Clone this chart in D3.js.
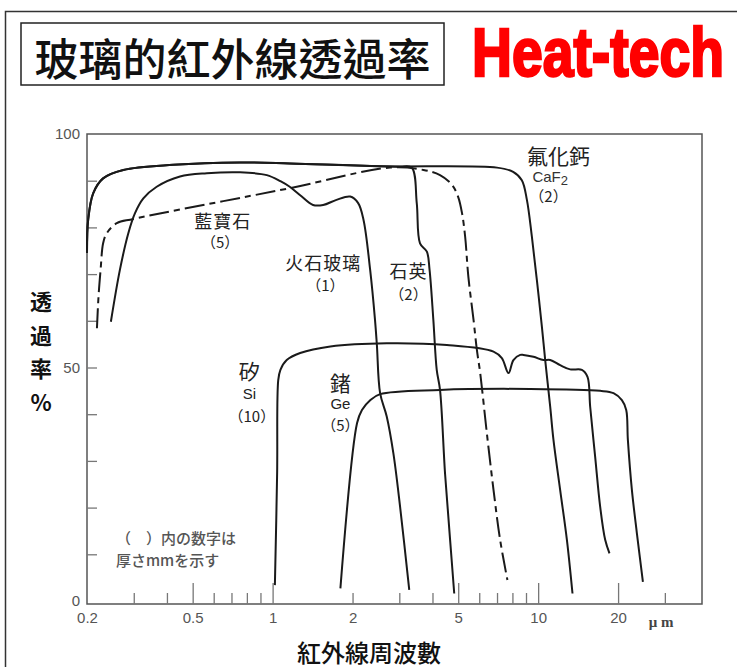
<!DOCTYPE html>
<html>
<head>
<meta charset="utf-8">
<script src="https://cdn.jsdelivr.net/npm/d3@7"></script>
<style>
  body { margin: 0; background: #fff; }
  svg { display: block; }
</style>
</head>
<body>
<div id="chart"></div>
<script>
// wavelength (µm), transmittance (%)
var caf2 = [[0.2, 74.5], [0.202, 81.6], [0.211, 87.3], [0.23, 90.5], [0.274, 92.3], [0.423, 93.4],
  [0.754, 93.9], [1.16, 93.7], [2.54, 93.1], [7.0, 92.8], [8.05, 91.9], [8.68, 90.1], [9.07, 85.9],
  [9.47, 78.0], [9.89, 68.7], [10.33, 58.7], [10.63, 51.6], [11.1, 41.6], [11.42, 34.5], [12.1, 23.8],
  [12.83, 13.1], [13.47, 1.6]];

var quartz = [[0.2, 74.5], [0.202, 81.6], [0.211, 87.3], [0.23, 90.5], [0.274, 92.3], [0.423, 93.4],
  [0.754, 93.9], [1.16, 93.7], [2.54, 93.1], [3.02, 93.0], [3.34, 92.8], [3.49, 85.2], [3.59, 76.6],
  [3.81, 74.8], [3.9, 70.9], [4.03, 60.2], [4.15, 49.5], [4.27, 45.2], [4.46, 27.3], [4.66, 13.1],
  [4.83, 1.6]];

var sapphire = [[0.218, 58.4], [0.221, 65.2], [0.225, 70.9], [0.23, 76.6], [0.237, 78.7], [0.259, 80.9],
  [0.299, 81.8], [1.16, 88.4], [2.77, 92.8], [3.7, 92.3], [4.27, 91.2], [4.74, 89.1], [5.0, 86.5],
  [5.17, 83.0], [5.31, 78.0], [5.46, 69.4], [5.71, 60.2], [5.88, 53.7], [6.05, 48.8], [6.41, 35.9],
  [6.79, 23.8], [7.19, 13.1], [7.66, 4.5]];

var flint = [[0.246, 59.8], [0.266, 70.9], [0.286, 78.7], [0.303, 83.0], [0.326, 86.2], [0.366, 88.7],
  [0.448, 90.9], [0.565, 91.6], [0.754, 91.8], [0.951, 91.2], [1.07, 89.9], [1.16, 88.7], [1.27, 86.9],
  [1.42, 84.8], [1.55, 84.8], [1.74, 85.9], [1.96, 86.6], [2.1, 85.2], [2.2, 81.6], [2.33, 70.9],
  [2.43, 60.2], [2.47, 54.8], [2.54, 44.5], [2.69, 39.5], [2.85, 31.6], [3.02, 20.2], [3.27, 2.4]];

var silicon = [[1.02, 3.4], [1.04, 27.4], [1.05, 47.3], [1.07, 49.5], [1.13, 51.6], [1.27, 53.1],
  [1.65, 54.5], [2.69, 55.2], [4.53, 54.8], [6.79, 53.4], [7.3, 52.0], [7.73, 48.8], [8.07, 51.6],
  [8.56, 52.7], [8.8, 52.7], [9.6, 52.3], [10.47, 51.6], [11.1, 51.6], [12.1, 50.5], [13.2, 49.6],
  [14.61, 49.5], [15.34, 48.0], [15.7, 41.6], [16.39, 30.9], [17.12, 20.2], [17.88, 13.1], [18.56, 10.2]];

var germanium = [[1.8, 2.7], [2.08, 38.1], [2.17, 40.9], [2.33, 43.0], [2.54, 44.3], [4.27, 45.2],
  [9.33, 45.4], [17.12, 45.0], [19.22, 44.5], [20.67, 43.0], [21.46, 40.9], [21.77, 34.5],
  [22.54, 23.8], [23.54, 14.5], [24.8, 4.1]];

var xLabels = [0.2, 0.5, 1, 2, 5, 10, 20];
var xTallTicks = [0.5, 1, 5, 10, 20];
var xShortTicks = [0.3, 0.4, 0.6, 0.7, 0.8, 0.9, 2, 3, 4, 6, 7, 8, 9, 30];
var yLabels = [0, 50, 100];
var yTicks = [10, 20, 30, 40, 50, 60, 70, 80, 90];

// curve names: [text, µm, %, size]
var curveLabels = [
  ["氟化鈣", 11.93, 95.5, 21], ["藍寶石", 0.649, 81.6, 18], ["（5）", 0.634, 76.9, 15],
  ["火石玻璃", 1.55, 72.5, 18], ["（1）", 1.58, 67.8, 15], ["石英", 3.25, 70.9, 18], ["（2）", 3.25, 65.9, 15],
  ["（2）", 10.94, 86.9, 15], ["矽", 0.817, 49.5, 21], ["Si", 0.817, 44.5, 15], ["（10）", 0.835, 39.8, 15],
  ["鍺", 1.8, 47.0, 21], ["Ge", 1.8, 42.3, 15], ["（5）", 1.8, 37.7, 15]
];

var W = 737, H = 667;
var svg = d3.select("#chart").append("svg")
  .attr("width", W).attr("height", H);

var x = d3.scaleLog().domain([0.2, 41.4]).range([87, 702]);
var y = d3.scaleLinear().domain([0, 100]).range([601, 134]);
var plotBottom = 604;

var cjk = "'Noto Sans CJK JP', 'Noto Sans CJK TC', sans-serif";
var latin = "'Liberation Sans', Arial, sans-serif";

// outer frame
svg.append("rect")
  .attr("x", 5.5).attr("y", 11.5).attr("width", 760).attr("height", 700)
  .attr("fill", "none").attr("stroke", "#333").attr("stroke-width", 1.5);

// title box
svg.append("rect")
  .attr("x", 21).attr("y", 23).attr("width", 423).attr("height", 62)
  .attr("fill", "#fff").attr("stroke", "#222").attr("stroke-width", 1.5);
svg.append("text")
  .attr("x", 232.5).attr("y", 57)
  .attr("text-anchor", "middle").attr("dominant-baseline", "central")
  .style("font-family", "'Noto Sans CJK TC', 'Noto Sans CJK JP', sans-serif")
  .style("font-size", "44px").style("font-weight", 500).attr("fill", "#111")
  .text("玻璃的紅外線透過率");

svg.append("text")
  .attr("x", 472).attr("y", 76)
  .attr("textLength", 252).attr("lengthAdjust", "spacingAndGlyphs")
  .style("font-family", latin).style("font-size", "68px").style("font-weight", "bold")
  .attr("fill", "#f00").attr("stroke", "#f00").attr("stroke-width", 2.5)
  .text("Heat-tech");

// plot box
svg.append("rect")
  .attr("x", x(0.2)).attr("y", y(100))
  .attr("width", x(41.4) - x(0.2)).attr("height", plotBottom - y(100))
  .attr("fill", "none").attr("stroke", "#555").attr("stroke-width", 1.5);

// inward y ticks
var gyt = svg.append("g").attr("transform", "translate(" + x(0.2) + ",0)")
  .call(d3.axisRight(y).tickValues(yTicks).tickSize(10).tickFormat(""));
gyt.select(".domain").remove();
gyt.selectAll("line").attr("stroke", "#777").attr("stroke-width", 1.3);

// y labels
var gyl = svg.append("g").attr("transform", "translate(" + x(0.2) + ",0)")
  .call(d3.axisLeft(y).tickValues(yLabels).tickSize(0).tickPadding(7));
gyl.select(".domain").remove();
gyl.selectAll("text").style("font-family", latin).style("font-size", "15px").attr("fill", "#555");

// upward x ticks
var gxt = svg.append("g").attr("transform", "translate(0," + plotBottom + ")")
  .call(d3.axisBottom(x).tickValues(xTallTicks).tickSize(-21).tickFormat(""));
gxt.select(".domain").remove();
var gxs = svg.append("g").attr("transform", "translate(0," + plotBottom + ")")
  .call(d3.axisBottom(x).tickValues(xShortTicks).tickSize(-11).tickFormat(""));
gxs.select(".domain").remove();
svg.selectAll(".tick line").attr("stroke", "#777").attr("stroke-width", 1.3);

// x labels
var gxl = svg.append("g").attr("transform", "translate(0," + plotBottom + ")")
  .call(d3.axisBottom(x).tickValues(xLabels).tickSize(0).tickPadding(8)
    .tickFormat(function(d) { return String(d); }));
gxl.select(".domain").remove();
gxl.selectAll("text").style("font-family", latin).style("font-size", "15px").attr("fill", "#555");

svg.append("text")
  .attr("x", 661).attr("y", 627).attr("text-anchor", "middle")
  .style("font-family", "'Liberation Serif', 'DejaVu Serif', serif")
  .style("font-size", "15px").style("font-weight", "bold").attr("fill", "#444")
  .text("μ m");

// axis titles
svg.append("text")
  .attr("x", 369).attr("y", 651).attr("text-anchor", "middle").attr("dominant-baseline", "central")
  .style("font-family", cjk).style("font-size", "24px").style("font-weight", 500).attr("fill", "#111")
  .text("紅外線周波數");

var yTitle = ["透", "過", "率", "%"];
svg.selectAll(".ytitle").data(yTitle).enter().append("text")
  .attr("class", "ytitle")
  .attr("x", 41).attr("y", function(d, i) { return 300 + i * 33.7; })
  .attr("text-anchor", "middle").attr("dominant-baseline", "central")
  .style("font-family", cjk).style("font-size", "22px").style("font-weight", "bold").attr("fill", "#111")
  .text(function(d) { return d; });

// curves
var line = d3.line()
  .x(function(d) { return x(d[0]); })
  .y(function(d) { return y(d[1]); })
  .curve(d3.curveCatmullRom.alpha(0.5));

var series = [
  { data: caf2, dash: null },
  { data: quartz, dash: null },
  { data: flint, dash: null },
  { data: silicon, dash: null },
  { data: germanium, dash: null },
  { data: sapphire, dash: "20,5,6,5" }
];

svg.selectAll(".curve").data(series).enter().append("path")
  .attr("class", "curve")
  .attr("d", function(d) { return line(d.data); })
  .attr("fill", "none").attr("stroke", "#1a1a1a").attr("stroke-width", 2)
  .attr("stroke-linejoin", "round")
  .attr("stroke-dasharray", function(d) { return d.dash; });

// curve names
svg.selectAll(".clabel").data(curveLabels).enter().append("text")
  .attr("class", "clabel")
  .attr("x", function(d) { return x(d[1]); })
  .attr("y", function(d) { return y(d[2]); })
  .attr("text-anchor", "middle").attr("dominant-baseline", "central")
  .style("font-family", function(d) { return /^[A-Za-z]/.test(d[0]) ? latin : cjk; })
  .style("font-size", function(d) { return d[3] + "px"; })
  .style("letter-spacing", function(d) { return d[3] === 18 ? "1px" : null; })
  .attr("fill", "#222")
  .text(function(d) { return d[0]; });

var caf = svg.append("text")
  .attr("x", x(11.1)).attr("y", y(91.0))
  .attr("text-anchor", "middle").attr("dominant-baseline", "central")
  .style("font-family", latin).style("font-size", "15px").attr("fill", "#333");
caf.append("tspan").text("CaF");
caf.append("tspan").attr("dy", 4).style("font-size", "13px").text("2");

// note
var notes = ["（　）内の数字は", "厚さmmを示す"];
svg.selectAll(".note").data(notes).enter().append("text")
  .attr("class", "note")
  .attr("x", x(0.257)).attr("y", function(d, i) { return y(13.5 - i * 4.7); })
  .attr("dominant-baseline", "central")
  .style("font-family", cjk).style("font-size", "15px").style("font-weight", 500).attr("fill", "#555")
  .text(function(d) { return d; });
</script>
</body>
</html>
